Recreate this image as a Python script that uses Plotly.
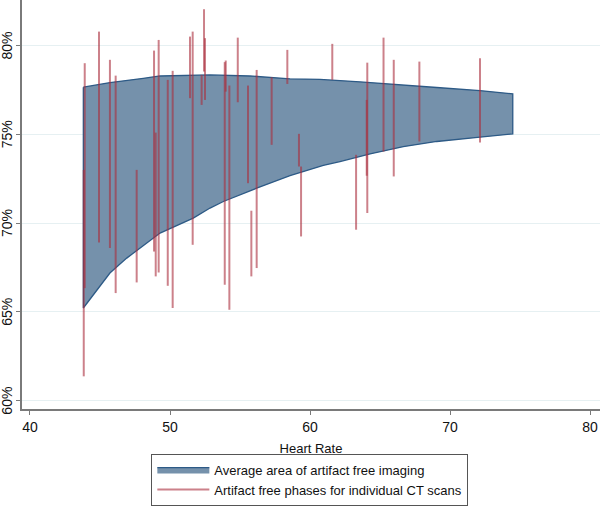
import plotly.graph_objects as go

# Band (average area of artifact free imaging)
band_hr_upper = [43.81, 45.71, 48.09, 49.29, 52.86, 55.71, 58.57, 60.71, 62.14, 63.57, 69.05, 72.14, 74.48]
band_upper = [77.66, 77.92, 78.16, 78.29, 78.35, 78.29, 78.13, 78.10, 78.03, 77.96, 77.64, 77.47, 77.28]
band_hr_lower = [43.81, 45.71, 46.91, 49.29, 51.66, 52.86, 53.81, 56.19, 58.57, 60.95, 62.14, 64.29, 66.66, 69.05, 72.14, 74.48]
band_lower = [65.22, 67.19, 68.03, 69.44, 70.28, 70.85, 71.22, 71.97, 72.67, 73.25, 73.47, 73.90, 74.31, 74.60, 74.84, 75.03]

# Individual CT scans: heart rate, top and bottom of artifact free phase
seg_hr = [43.84, 43.91, 44.93, 45.71, 46.12, 47.62, 48.86, 48.98, 49.19, 49.84, 50.19, 51.43,
          51.62, 52.26, 52.43, 52.50, 53.91, 53.98, 54.24, 54.84, 55.57, 55.81, 56.19, 57.26,
          58.38, 59.21, 59.36, 61.59, 63.29, 64.09, 64.05, 65.25, 65.98, 67.81, 72.14]
seg_top = [73.00, 79.01, 80.79, 79.20, 78.31, 73.00, 79.72, 75.10, 80.32, 78.07, 78.58, 80.51,
           80.79, 78.35, 82.05, 80.42, 79.07, 79.16, 77.75, 80.45, 77.75, 70.70, 78.63, 78.22,
           79.76, 75.03, 73.19, 80.10, 73.85, 79.04, 76.94, 80.45, 79.20, 79.10, 79.29]
seg_bottom = [61.37, 66.34, 68.91, 68.60, 66.06, 66.66, 68.40, 67.00, 67.22, 66.47, 65.22, 77.04,
              68.78, 76.66, 78.54, 76.94, 66.53, 77.41, 65.12, 76.81, 72.25, 67.00, 67.47, 74.41,
              77.84, 73.19, 69.25, 78.07, 69.63, 70.57, 72.67, 74.03, 72.63, 74.60, 74.54]

y_ticks = [60, 65, 70, 75, 80]
y_tick_labels = [f"{v}%" for v in y_ticks]
x_ticks = [40, 50, 60, 70, 80]

FONT = "Liberation Sans"
TXT = "#111111"
fig = go.Figure()

band_x = band_hr_upper + band_hr_lower[::-1] + [band_hr_upper[0]]
band_y = band_upper + band_lower[::-1] + [band_upper[0]]
fig.add_trace(go.Scatter(
    x=band_x, y=band_y, mode="lines", fill="toself",
    fillcolor="#7591ab", line=dict(color="#2d5a86", width=1.3),
    name="Average area of artifact free imaging", hoverinfo="skip"))

for i, (hx, t, b) in enumerate(zip(seg_hr, seg_top, seg_bottom)):
    fig.add_trace(go.Scatter(
        x=[hx, hx], y=[t, b], mode="lines",
        line=dict(color="rgba(170,45,60,0.6)", width=2),
        name="Artifact free phases for individual CT scans",
        legendgroup="scans", showlegend=(i == 0)))

# rotated y tick labels
for v, lab in zip(y_ticks, y_tick_labels):
    fig.add_annotation(
        xref="paper", yref="y", x=-0.026, y=v, text=lab, showarrow=False,
        textangle=-90, xanchor="center", yanchor="middle",
        font=dict(family=FONT, size=14, color=TXT))

fig.update_layout(
    width=600, height=508,
    margin=dict(l=22, r=0, t=0, b=99),
    paper_bgcolor="white", plot_bgcolor="white",
    font=dict(family=FONT, size=13, color=TXT),
    legend=dict(
        x=0.498, xanchor="center", y=-0.2362, yanchor="bottom",
        bordercolor="#555555", borderwidth=1,
        font=dict(family=FONT, size=13, color=TXT),
        itemwidth=52, tracegroupgap=0,
    ),
    showlegend=True,
)
fig.update_xaxes(
    range=[39.43, 80.71], tickvals=x_ticks, showgrid=False, zeroline=False,
    showline=True, linecolor="#7a7a7a", linewidth=1.5,
    ticks="outside", ticklen=4, tickcolor="#7a7a7a", tickwidth=1.2,
    tickfont=dict(family=FONT, size=14, color=TXT),
    title=dict(text="Heart Rate", font=dict(family=FONT, size=13, color=TXT), standoff=10),
    automargin=False,
)
fig.update_yaxes(
    range=[59.53, 82.57], tickvals=y_ticks, showticklabels=False,
    showgrid=True, gridcolor="#e6f0f2", gridwidth=1, zeroline=False,
    showline=True, linecolor="#7a7a7a", linewidth=1.5,
    ticks="outside", ticklen=4, tickcolor="#7a7a7a", tickwidth=1.2,
    automargin=False,
)

fig.write_html("out.html", config={"displayModeBar": False},
               post_script="document.body.style.margin='0';")
